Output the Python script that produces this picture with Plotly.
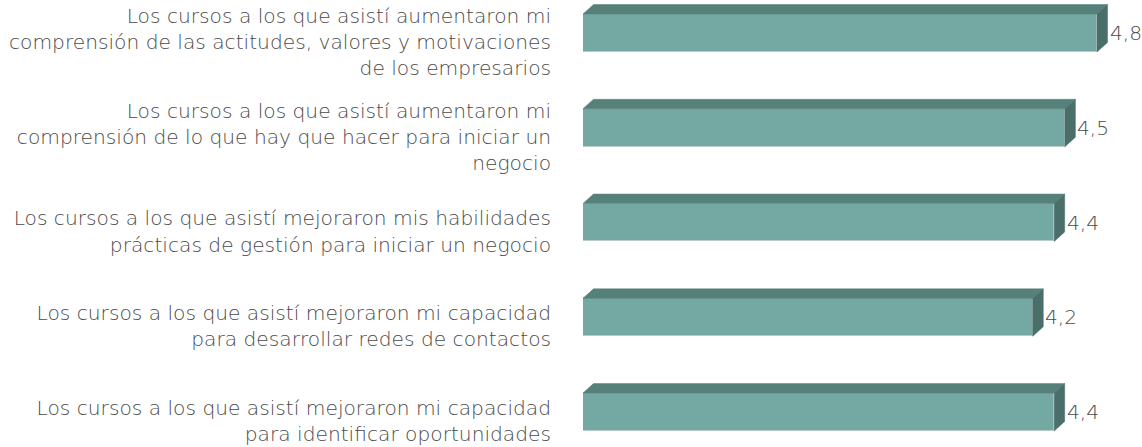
import plotly.graph_objects as go

# Survey statements (top to bottom) and mean scores
categories = [
    "Los cursos a los que asistí aumentaron mi<br>comprensión de las actitudes, valores y motivaciones<br>de los empresarios",
    "Los cursos a los que asistí aumentaron mi<br>comprensión de lo que hay que hacer para iniciar un<br>negocio",
    "Los cursos a los que asistí mejoraron mis habilidades<br>prácticas de gestión para iniciar un negocio",
    "Los cursos a los que asistí mejoraron mi capacidad<br>para desarrollar redes de contactos",
    "Los cursos a los que asistí mejoraron mi capacidad<br>para identificar oportunidades",
]
values = [4.8, 4.5, 4.4, 4.2, 4.4]
value_labels = ["4,8", "4,5", "4,4", "4,2", "4,4"]

# Figure geometry
W, H = 1142, 447
ML, MR, MT, MB = 583, 0, 0, 0
X_RANGE = (0, 5.22)
Y_RANGE = (4.369, -0.348)          # reversed: first statement on top
BAR_W = 0.40                       # front face thickness in category units
DEPTH_PX = (10.5, 9.5)             # 3D depth offset (right, up) in pixels

FRONT = "#73a9a2"
TOP = "#56807a"
SIDE = "#4a6f6a"
EDGE = "#b9cbc8"
TEXT = "#4a4a4a"
FONT = "DejaVu Sans"
FONT_WEIGHT = 200
FONT_SIZE = 20.2

px_per_x = (W - ML - MR) / (X_RANGE[1] - X_RANGE[0])
px_per_y = (H - MT - MB) / abs(Y_RANGE[0] - Y_RANGE[1])
dx = DEPTH_PX[0] / px_per_x
dy = DEPTH_PX[1] / px_per_y

positions = list(range(len(values)))

fig = go.Figure()

# top and side faces of each bar
for pos, v in zip(positions, values):
    top_y = pos - BAR_W / 2
    bot_y = pos + BAR_W / 2
    fig.add_trace(go.Scatter(
        x=[0, v, v + dx, dx, 0],
        y=[top_y, top_y, top_y - dy, top_y - dy, top_y],
        mode="lines", fill="toself", fillcolor=TOP,
        line=dict(color=TOP, width=0.5), hoverinfo="skip", showlegend=False,
    ))
    fig.add_trace(go.Scatter(
        x=[v, v + dx, v + dx, v, v],
        y=[top_y, top_y - dy, bot_y - dy, bot_y, top_y],
        mode="lines", fill="toself", fillcolor=SIDE,
        line=dict(color=SIDE, width=0.5), hoverinfo="skip", showlegend=False,
    ))

# front faces
fig.add_trace(go.Bar(
    x=values, y=positions, orientation="h", width=BAR_W,
    marker=dict(color=FRONT, line=dict(color=EDGE, width=1)),
    hoverinfo="skip", showlegend=False,
))

# value labels beside the bars
for pos, v, lab in zip(positions, values, value_labels):
    fig.add_annotation(
        x=v + dx, y=pos, text=lab, showarrow=False,
        xanchor="left", yanchor="middle", xshift=0,
        font=dict(family=FONT, size=FONT_SIZE, color=TEXT, weight=FONT_WEIGHT),
    )

fig.update_layout(
    width=W, height=H,
    margin=dict(l=ML, r=MR, t=MT, b=MB, autoexpand=False),
    paper_bgcolor="white", plot_bgcolor="white",
    bargap=0,
)
fig.update_xaxes(range=list(X_RANGE), visible=False, fixedrange=True, automargin=False)
fig.update_yaxes(
    range=list(Y_RANGE), tickmode="array", tickvals=positions, ticktext=categories,
    showgrid=False, zeroline=False, showline=False, ticks="",
    ticklabelstandoff=31, ticklabelshift=-9, automargin=False,
    tickfont=dict(family=FONT, size=FONT_SIZE, color=TEXT, weight=FONT_WEIGHT),
    fixedrange=True,
)

fig.write_html("out.html")
